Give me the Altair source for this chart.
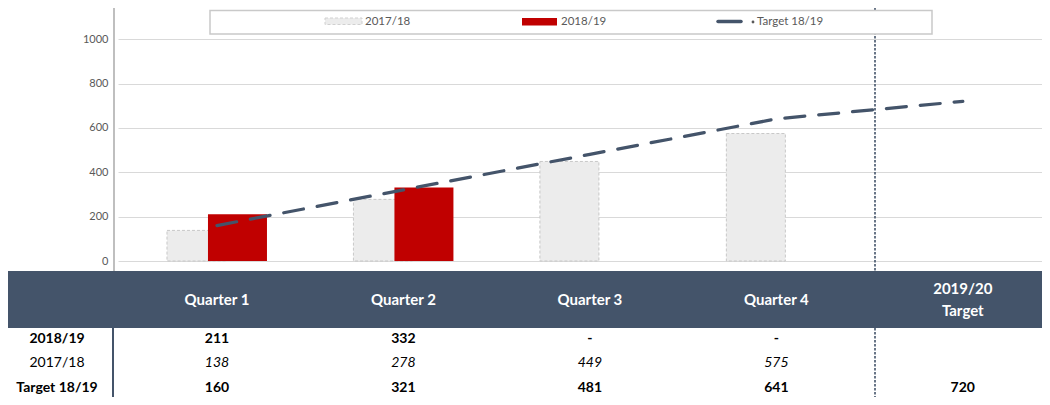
import altair as alt
import pandas as pd

# ---- data ----
quarters = ["Quarter 1", "Quarter 2", "Quarter 3", "Quarter 4", "2019/20\nTarget"]
actual_1819 = [211, 332, None, None, None]
prior_1718 = [138, 278, 449, 575, None]
target_1819 = [160, 321, 481, 641, 720]
row_labels = ["2018/19", "2017/18", "Target 18/19"]
legend_labels = ["2017/18", "2018/19", "Target 18/19"]
y_ticks = [0, 200, 400, 600, 800, 1000]

actual_txt = [str(v) if v is not None else ("-" if k < 4 else "") for k, v in enumerate(actual_1819)]
prior_txt = [str(v) if v is not None else "" for v in prior_1718]
target_txt = [str(v) for v in target_1819]

df = pd.DataFrame({
    "i": list(range(len(quarters))),
    "quarter": quarters,
    "prior": prior_1718,
    "actual": actual_1819,
    "target": target_1819,
    "actual_txt": actual_txt,
    "prior_txt": prior_txt,
    "target_txt": target_txt,
})
one = pd.DataFrame({"k": [0]})

NAVY = "#44546A"
RED = "#C00000"
FONT = "Lato"

W = 924
H = 389

xs = alt.Scale(domain=[-0.504, 4.3979], nice=False, zero=False)
ys = alt.Scale(domain=[-613.4, 1141.2], nice=False, zero=False)
yaxis = alt.Axis(values=y_ticks, format="d", grid=True, gridColor="#d9d9d9", gridWidth=1,
                 domain=False, ticks=False, tickSize=0, labelPadding=10,
                 labelFont=FONT, labelFontSize=11, labelColor="#595959", title="")
X = alt.X("i:Q", scale=xs, axis=None)

def Y(field):
    return alt.Y(field, scale=ys, axis=yaxis)

# separator dotted line (behind table header)
sep = alt.Chart(one).mark_rule(color=NAVY, strokeWidth=1.6, strokeDash=[2.5, 1.5]).encode(
    x=alt.value(757), y=alt.value(0), y2=alt.value(H))

# y axis line
axis_line = alt.Chart(one).mark_rule(color="#bfbfbf", strokeWidth=2).encode(
    x=alt.value(-4), y=alt.value(0), y2=alt.value(263))

bars_prior = alt.Chart(df).mark_bar(size=59, xOffset=-20.5, fill="#ececec", stroke="#c8c8c8",
                                     strokeDash=[3, 2], strokeWidth=1).encode(
    x=X, y=Y("prior:Q"), y2=alt.datum(0))

bars_actual = alt.Chart(df).mark_bar(size=59, xOffset=20.5, color=RED).encode(
    x=X, y=Y("actual:Q"), y2=alt.datum(0))

line = alt.Chart(df).mark_line(color=NAVY, strokeWidth=3.25, strokeDash=[20, 14],
                               strokeCap="round").encode(x=X, y=Y("target:Q"))

# legend
leg_box = alt.Chart(one).mark_rect(fill="white", stroke="#c9c9c9", strokeWidth=1.5).encode(
    x=alt.value(92), x2=alt.value(814), y=alt.value(2.5), y2=alt.value(26))
leg_grey = alt.Chart(one).mark_rect(fill="#ececec", stroke="#d0d0d0", strokeDash=[3, 2],
                                    strokeWidth=1).encode(
    x=alt.value(207), x2=alt.value(244), y=alt.value(10), y2=alt.value(16.5))
leg_red = alt.Chart(one).mark_rect(fill=RED).encode(
    x=alt.value(404), x2=alt.value(439), y=alt.value(10), y2=alt.value(17.5))
leg_line = alt.Chart(one).mark_rule(color=NAVY, strokeWidth=3.5, strokeCap="round").encode(
    x=alt.value(600), x2=alt.value(623), y=alt.value(13.5))
leg_dot = alt.Chart(one).mark_point(filled=True, size=8, color="#595959", shape="circle",
                                    opacity=1).encode(x=alt.value(635), y=alt.value(14))
leg_texts = [
    alt.Chart(one).mark_text(align="left", baseline="middle", font=FONT, fontSize=11.5,
                             color="#595959", text=lab).encode(x=alt.value(px), y=alt.value(13.5))
    for lab, px in zip(legend_labels, [247, 443, 639])
]

# table
header_band = alt.Chart(one).mark_rect(color=NAVY).encode(
    x=alt.value(-110), x2=alt.value(W), y=alt.value(263), y2=alt.value(320))
divider = alt.Chart(one).mark_rule(color=NAVY, strokeWidth=2).encode(
    x=alt.value(-5), y=alt.value(320), y2=alt.value(H))
header_single = alt.Chart(df).transform_filter("datum.i < 4").mark_text(
    font=FONT, fontWeight="bold", fontSize=15, color="white", baseline="middle").encode(
    x=X, text="quarter:N", y=alt.value(291.5))
header_multi = alt.Chart(df).transform_filter("datum.i >= 4").mark_text(
    font=FONT, fontWeight="bold", fontSize=15, color="white", lineBreak="\n",
    lineHeight=22, baseline="middle").encode(
    x=X, text="quarter:N", y=alt.value(281))

row_y = [331, 355, 380]
row_styles = [
    dict(fontWeight="bold", fontStyle="normal"),
    dict(fontWeight="normal", fontStyle="italic"),
    dict(fontWeight="bold", fontStyle="normal"),
]
row_fields = ["actual_txt:N", "prior_txt:N", "target_txt:N"]
row_layers = []
for lab, yy, st, fld in zip(row_labels, row_y, row_styles, row_fields):
    label_style = dict(st)
    label_style["fontStyle"] = "normal"
    row_layers.append(
        alt.Chart(one).mark_text(font=FONT, fontSize=14, color="black", baseline="middle",
                                 text=lab, **label_style).encode(x=alt.value(-61), y=alt.value(yy)))
    row_layers.append(
        alt.Chart(df).mark_text(font=FONT, fontSize=14, color="black", baseline="middle",
                                **st).encode(x=X, text=fld, y=alt.value(yy)))

chart = alt.layer(
    sep, axis_line, bars_prior, bars_actual, line,
    leg_box, leg_grey, leg_red, leg_line, leg_dot, *leg_texts,
    header_band, divider, header_single, header_multi, *row_layers,
).properties(
    width=W, height=H,
    autosize=alt.AutoSizeParams(type="none"),
    padding={"left": 110, "top": 0, "right": 0, "bottom": 0},
).configure_view(stroke="transparent")

chart.save("out.html", embed_options={"renderer": "svg", "actions": False})
